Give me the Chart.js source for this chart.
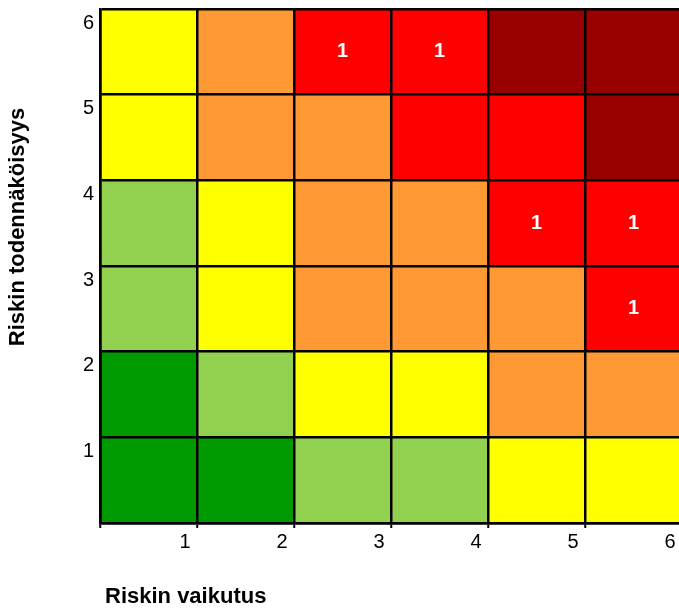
<!DOCTYPE html>
<html lang="fi">
<head>
  <meta charset="UTF-8" />
  <title>Riskimatriisi</title>
  <script src="https://cdn.jsdelivr.net/npm/chart.js"></script>
  <style>
    html, body { margin: 0; padding: 0; background: #fff; overflow: hidden }
    canvas { display: block }
  </style>
</head>
<body>
  <canvas id="matrix" width="683" height="610"></canvas>

  <script>
    // Impact (x) and likelihood (y) levels
    const impactLevels = [1, 2, 3, 4, 5, 6];
    const likelihoodLevels = [1, 2, 3, 4, 5, 6];

    // Risk class of each cell, rows from likelihood 6 down to 1
    // 1 = low (green) ... 6 = critical (dark red)
    const riskRow6 = [3, 4, 5, 5, 6, 6];
    const riskRow5 = [3, 4, 4, 5, 5, 6];
    const riskRow4 = [2, 3, 4, 4, 5, 5];
    const riskRow3 = [2, 3, 4, 4, 4, 5];
    const riskRow2 = [1, 2, 3, 3, 4, 4];
    const riskRow1 = [1, 1, 2, 2, 3, 3];

    // Number of risks in each cell, same row order
    const countRow6 = [0, 0, 1, 1, 0, 0];
    const countRow5 = [0, 0, 0, 0, 0, 0];
    const countRow4 = [0, 0, 0, 0, 1, 1];
    const countRow3 = [0, 0, 0, 0, 0, 1];
    const countRow2 = [0, 0, 0, 0, 0, 0];
    const countRow1 = [0, 0, 0, 0, 0, 0];

    const classColors = { 1: '#009900', 2: '#92D050', 3: '#FFFF00', 4: '#FF9933', 5: '#FF0000', 6: '#990000' };

    const riskRows = [riskRow1, riskRow2, riskRow3, riskRow4, riskRow5, riskRow6];
    const countRows = [countRow1, countRow2, countRow3, countRow4, countRow5, countRow6];

    // one floating bar per cell
    const cells = [], colors = [], counts = [];
    likelihoodLevels.forEach((l, r) => {
      impactLevels.forEach((i, c) => {
        cells.push({ x: i - 0.5, y: [l - 1, l] });
        colors.push(classColors[riskRows[r][c]]);
        counts.push(countRows[r][c]);
      });
    });

    const FONT = "'Liberation Sans', Arial, sans-serif";

    // risk counts in the middle of the cells
    const cellCounts = {
      id: 'cellCounts',
      afterDatasetsDraw(chart) {
        const ctx = chart.ctx;
        const meta = chart.getDatasetMeta(0);
        ctx.save();
        ctx.fillStyle = '#fff';
        ctx.font = 'bold 20px ' + FONT;
        ctx.textAlign = 'center';
        ctx.textBaseline = 'middle';
        meta.data.forEach((bar, k) => {
          if (counts[k]) ctx.fillText(String(counts[k]), bar.x, (bar.y + bar.base) / 2);
        });
        ctx.restore();
      }
    };

    // axis titles sit off-centre, so they are drawn by hand
    const axisTitles = {
      id: 'axisTitles',
      afterDraw(chart) {
        const ctx = chart.ctx;
        ctx.save();
        ctx.fillStyle = '#000';
        ctx.font = 'bold 22px ' + FONT;
        ctx.textBaseline = 'middle';
        ctx.textAlign = 'left';
        ctx.fillText('Riskin vaikutus', 105, 597);
        ctx.translate(18, 227);
        ctx.rotate(-Math.PI / 2);
        ctx.textAlign = 'center';
        ctx.fillText('Riskin todennäköisyys', 0, 0);
        ctx.restore();
      }
    };

    new Chart(document.getElementById('matrix'), {
      type: 'bar',
      data: {
        datasets: [{
          data: cells,
          backgroundColor: colors,
          borderWidth: 0,
          categoryPercentage: 1,
          barPercentage: 1
        }]
      },
      options: {
        responsive: false,
        animation: false,
        layout: { padding: { top: 9, right: 1, left: 0, bottom: 0 } },
        plugins: { legend: { display: false }, tooltip: { enabled: false } },
        scales: {
          x: {
            type: 'linear',
            min: 0,
            max: 6,
            offset: false,
            afterFit: s => { s.height = 87; s.paddingLeft = 0; s.paddingRight = 0; },
            border: { color: '#000', width: 2.5, z: 1 },
            // cell borders are the grid, drawn above the bars
            grid: { z: 1, offset: false, color: '#000', lineWidth: 2.5, tickLength: 5, tickColor: '#000', tickWidth: 2 },
            ticks: {
              stepSize: 1,
              labelOffset: -12,
              padding: 2,
              color: '#000',
              font: { family: FONT, size: 20 },
              maxRotation: 0,
              callback: v => v === 0 ? '' : String(v)
            }
          },
          y: {
            min: 0,
            max: 6,
            afterFit: s => { s.width = 100; s.paddingTop = 0; s.paddingBottom = 0; },
            border: { color: '#000', width: 2.5, z: 1 },
            grid: { z: 1, color: '#000', lineWidth: 2.5, drawTicks: false },
            ticks: {
              stepSize: 1,
              labelOffset: 14,
              padding: 6,
              color: '#000',
              font: { family: FONT, size: 20 },
              callback: v => v === 0 ? '' : String(v)
            }
          }
        }
      },
      plugins: [cellCounts, axisTitles]
    });
  </script>
</body>
</html>
